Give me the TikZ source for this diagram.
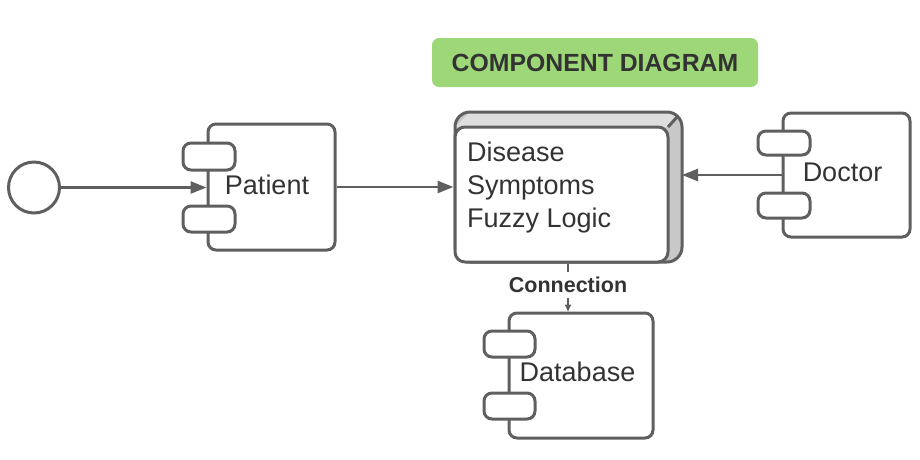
\documentclass[tikz,border=0pt]{standalone}
\usepackage{fontspec}
\setmainfont{Liberation Sans}
\usetikzlibrary{arrows.meta}
\definecolor{ln}{RGB}{95,95,95}
\definecolor{tx}{RGB}{51,51,51}
\definecolor{ttl}{RGB}{158,215,120}
\definecolor{topf}{RGB}{222,222,222}
\definecolor{sidef}{RGB}{200,200,200}
\tikzset{
  comp/.style={draw=ln, line width=3pt, rounded corners=8pt, fill=white, inner sep=0pt},
  port/.style={draw=ln, line width=3pt, rounded corners=8pt, fill=white, inner sep=0pt, minimum width=52pt},
  lbl/.style={text=tx, font=\fontsize{27}{33}\selectfont, inner sep=0pt},
  conn/.style={draw=ln, line width=2.5pt, -{Triangle[length=16pt,width=12pt]}},
}
\begin{document}
\begin{tikzpicture}[x=1pt,y=-1pt]
\useasboundingbox (0,0) rectangle (920,459);
% title
\node[fill=ttl, rounded corners=7pt, minimum width=326pt, minimum height=49pt, inner sep=0pt,
      text=tx, font=\bfseries\fontsize{24.8}{28}\selectfont] (title) at (595,62.5) {COMPONENT DIAGRAM};
% interface circle
\node[circle, draw=ln, line width=3pt, minimum size=51pt, inner sep=0pt, fill=white] (iface) at (34,187.5) {};
% Patient
\node[comp, minimum width=127pt, minimum height=126pt] (patient) at (271.5,187) {};
\node[port, minimum height=27pt] (pp1) at (209,156.5) {};
\node[port, minimum height=26pt] (pp2) at (209,219) {};
\node[lbl] (patientt) at (267,185) {Patient};
% Doctor
\node[comp, minimum width=127pt, minimum height=124pt] (doctor) at (846.5,175) {};
\node[port, minimum height=24pt] (dp1) at (784,143) {};
\node[port, minimum height=25pt] (dp2) at (784,205.5) {};
\node[lbl] (doctort) at (842.5,172) {Doctor};
% Database
\node[comp, minimum width=144pt, minimum height=125pt] (db) at (581,375.5) {};
\node[port, minimum width=51pt, minimum height=26pt] (bp1) at (509.5,344) {};
\node[port, minimum width=51pt, minimum height=26pt] (bp2) at (509.5,406) {};
\node[lbl] (dbt) at (577.5,372) {Database};
% central 3D box
\begin{scope}
  \path[clip, rounded corners=15pt] (455,112) rectangle (682,262);
  \fill[sidef] (455,112) rectangle (682,262);
  \fill[topf] (455,127) -- (470,112) -- (682,112) -- (668,127) -- cycle;
\end{scope}
\draw[ln, line width=3pt, rounded corners=15pt] (455,112) rectangle (682,262);
\draw[ln, line width=3pt] (668,127) -- (677,117);
\node[comp, rounded corners=10pt, minimum width=213pt, minimum height=135pt] (core) at (561.5,194.5) {};
\node[lbl, align=left, anchor=west] (coret) at (467,188) {Disease\\Symptoms\\Fuzzy Logic};
% connectors
\draw[conn] (iface.east) -- (patient.west |- iface.east);
\draw[conn] (patient.east |- 0,187) -- (core.west |- 0,187);
\coordinate (corer) at (682,175);
\draw[conn] (doctor.west |- 0,175) -- (corer);
\node[text=tx, font=\bfseries\fontsize{21.5}{24}\selectfont, inner sep=0pt] (connl) at (568,284.5) {Connection};
\draw[ln, line width=1.5pt] (core.south -| 568,0) -- (568,272);
\draw[ln, line width=1.5pt, -{Triangle[length=7pt,width=6pt]}] (568,298) -- (db.north -| 568,0);
\end{tikzpicture}
\end{document}
